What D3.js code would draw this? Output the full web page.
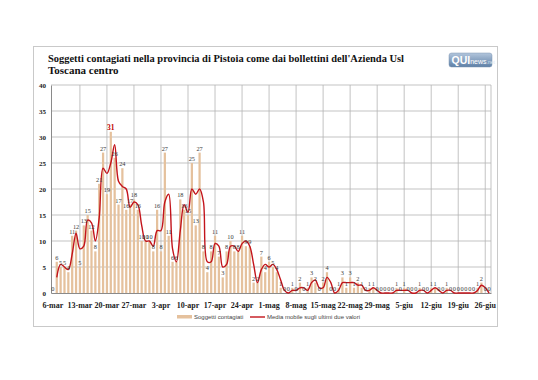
<!DOCTYPE html>
<html><head><meta charset="utf-8">
<script src="https://cdn.jsdelivr.net/npm/d3@7"></script>
<style>body{margin:0;background:#fff}svg{display:block}</style>
</head><body>
<svg id="c" width="538" height="380"></svg>
<script>
// ---- data ----
const titleLines = ["Soggetti contagiati nella provincia di Pistoia come dai bollettini dell'Azienda Usl", "Toscana centro"];
const tickLabels = ["6-mar","13-mar","20-mar","27-mar","3-apr","10-apr","17-apr","24-apr","1-mag","8-mag","15-mag","22-mag","29-mag","5-giu","12-giu","19-giu","26-giu"];
const yTicks = [0,5,10,15,20,25,30,35,40];
const contagiati = [
 0,6,5,5,4,11,12,5,13,15,
 12,8,21,27,19,31,26,17,24,16,
 17,18,16,10,10,10,8,16,8,27,
 11,6,6,18,16,15,25,13,27,8,
 4,8,11,7,3,8,10,8,8,11,
 9,9,2,2,7,4,6,5,4,1,
 0,0,1,0,2,0,1,3,2,0,
 2,4,0,0,1,3,1,3,1,2,
 1,0,1,1,0,0,0,0,0,1,
 0,1,0,0,0,1,0,0,1,1,
 0,0,1,0,0,0,0,0,0,0,
 1,2,0,0];
const mediaMobile = [
 null,3,5.5,5,4.5,7.5,11.5,8.5,9,14,
 13.5,10,14.5,24,23,25,28.5,21.5,20.5,20,
 16.5,17.5,17,13,10,10,9,12,12,17.5,
 19,8.5,6,12,17,15.5,20,19,20,17.5,
 6,6,9.5,9,5,5.5,9,9,8,9.5,
 10,9,5.5,2,4.5,5.5,5,5.5,4.5,2.5,
 0.5,0,0.5,0.5,1,1,0.5,2,2.5,1,
 1,3,2,0,0.5,2,2,2,2,1.5,
 1.5,0.5,0.5,1,0.5,0,0,0,0,0.5,
 0.5,0.5,0.5,0,0,0.5,0.5,0,0.5,1,
 0.5,0,0.5,0.5,0,0,0,0,0,0,
 0.5,1.5,1,0];
const legendLabels = ["Soggetti contagiati", "Media mobile sugli ultimi due valori"];

// ---- drawing ----
const svg = d3.select("#c");
const W = 538, H = 380;
const plot = {l: 51, r: 491, t: 85, b: 293};
const days = d3.range(contagiati.length);
const tickDays = days.filter(d => d % 7 === 0);

const x = d3.scaleBand().domain(days).range([plot.l, plot.r]).paddingInner(0.42).paddingOuter(0.2);
const xc = d => x(d) + x.bandwidth() / 2;
const y = d3.scaleLinear().domain([0, 40]).range([plot.b, plot.t]);

const serif = "'Liberation Serif','Times New Roman',serif";
const sans = "'Liberation Sans',Arial,sans-serif";

svg.append("rect").attr("width", W).attr("height", H).attr("fill", "#fff");
// outer frame
svg.append("rect").attr("x", 33.5).attr("y", 46.5).attr("width", 464).attr("height", 280)
  .attr("fill", "#fff").attr("stroke", "#c9c9c9").attr("stroke-width", 1);

// title
const tt = svg.append("g").attr("font-family", serif).attr("font-weight", "bold").attr("font-size", 11).attr("fill", "#111");
tt.selectAll("text").data(titleLines).join("text")
  .attr("x", 48).attr("y", (d, i) => 62 + i * 12).text(d => d);
const t1 = tt.select("text").node();
const want = 356;
if (Math.abs(t1.getComputedTextLength() - want) > 6) { d3.select(t1).attr("textLength", want).attr("lengthAdjust", "spacingAndGlyphs"); }

// logo
const defs = svg.append("defs");
const lg = defs.append("linearGradient").attr("id", "lg").attr("x1", 0).attr("y1", 0).attr("x2", 0).attr("y2", 1);
lg.append("stop").attr("offset", 0).attr("stop-color", "#b3c6dc");
lg.append("stop").attr("offset", 1).attr("stop-color", "#5d7fa6");
const logo = svg.append("g").attr("transform", "translate(449,53)");
logo.append("rect").attr("width", 43).attr("height", 14).attr("rx", 2.5).attr("fill", "url(#lg)").attr("stroke", "#7d95b3").attr("stroke-width", 0.5);
const lt = logo.append("text").attr("x", 2.5).attr("y", 11).attr("font-family", sans).attr("font-weight", "bold").attr("fill", "#fff");
lt.append("tspan").attr("font-size", 10.5).text("QUI");
lt.append("tspan").attr("font-size", 7).attr("font-weight", "normal").text("news");
lt.append("tspan").attr("font-size", 5).attr("font-weight", "normal").attr("fill", "#dde6f0").text(".net");

// gridlines
const grid = svg.append("g").attr("stroke", "#b4b4b4").attr("stroke-width", 0.8);
grid.selectAll("line.h").data(yTicks.slice(1)).join("line").attr("class", "h")
  .attr("x1", plot.l).attr("x2", plot.r).attr("y1", d => y(d)).attr("y2", d => y(d));
grid.selectAll("line.v").data(tickDays.slice(1)).join("line").attr("class", "v")
  .attr("x1", d => xc(d)).attr("x2", d => xc(d)).attr("y1", plot.t).attr("y2", plot.b);
grid.append("line").attr("x1", plot.r).attr("x2", plot.r).attr("y1", plot.t).attr("y2", plot.b);

// y axis
const yAxis = svg.append("g").attr("transform", `translate(${plot.l},0)`)
  .call(d3.axisLeft(y).tickValues(yTicks).tickSize(0).tickPadding(5));
yAxis.select(".domain").attr("stroke", "#8a8a8a");
yAxis.selectAll("text").attr("font-family", serif).attr("font-weight", "bold").attr("font-size", 7).attr("fill", "#222");

// x axis
const xAxis = svg.append("g").attr("transform", `translate(0,${plot.b})`)
  .call(d3.axisBottom(x).tickValues(tickDays).tickFormat((d, i) => tickLabels[i]).tickSize(0).tickPadding(9));
xAxis.select(".domain").attr("stroke", "#8a8a8a");
xAxis.selectAll("text").attr("font-family", serif).attr("font-weight", "bold").attr("font-size", 8).attr("fill", "#222");

// bars
svg.append("g").attr("fill", "#e5c19d").selectAll("rect").data(days).join("rect")
  .attr("x", d => x(d)).attr("width", x.bandwidth())
  .attr("y", d => y(contagiati[d])).attr("height", d => y(0) - y(contagiati[d]));

// line
const line = d3.line().defined(d => mediaMobile[d] !== null)
  .x(d => xc(d)).y(d => y(mediaMobile[d])).curve(d3.curveCatmullRom.alpha(0.5));
svg.append("path").datum(days).attr("d", line).attr("fill", "none")
  .attr("stroke", "#c3141b").attr("stroke-width", 1.4).attr("stroke-linejoin", "round");

// data labels
const maxV = d3.max(contagiati);
svg.append("g").attr("font-family", serif).attr("text-anchor", "middle")
  .selectAll("text").data(days).join("text")
  .attr("x", d => xc(d)).attr("y", d => y(contagiati[d]) - 2)
  .attr("font-size", d => contagiati[d] === maxV ? 7.5 : 6.3)
  .attr("font-weight", d => contagiati[d] === maxV ? "bold" : "normal")
  .attr("fill", d => contagiati[d] === maxV ? "#c00000" : "#3a3a3a")
  .text(d => contagiati[d]);

// legend
const leg = svg.append("g").attr("font-family", sans).attr("font-size", 6).attr("fill", "#444");
leg.append("rect").attr("x", 177).attr("y", 315).attr("width", 15).attr("height", 3.5).attr("fill", "#e5c19d");
leg.append("text").attr("x", 194).attr("y", 319).text(legendLabels[0]);
leg.append("line").attr("x1", 250).attr("x2", 265).attr("y1", 317).attr("y2", 317).attr("stroke", "#c3141b").attr("stroke-width", 1.4);
leg.append("text").attr("x", 267).attr("y", 319).text(legendLabels[1]);
</script>
</body></html>
